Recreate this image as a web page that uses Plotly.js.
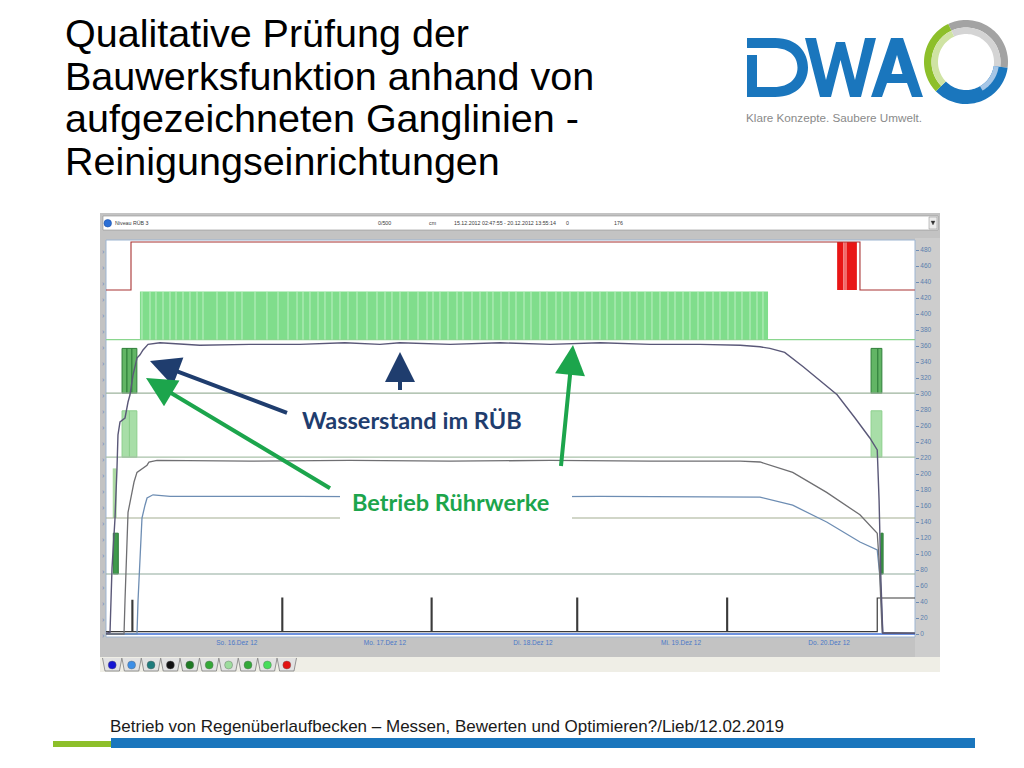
<!DOCTYPE html>
<html><head><meta charset="utf-8">
<script src="https://cdn.plot.ly/plotly-3.0.1.min.js"></script>
<style>html,body{margin:0;padding:0;background:#fff;overflow:hidden}#chart{width:1024px;height:768px}</style>
</head><body><div id="chart"></div>
<script>
// ================= DATA (hours after 15.12.2012 00:00, values in cm) =================
const rangeStart = '2012-12-15 02:47:55';
const rangeEnd = '2012-12-20 13:55:14';
const dayTickDates = ['2012-12-16', '2012-12-17', '2012-12-18', '2012-12-19', '2012-12-20'];
const dayTickLabels = ['So. 16.Dez 12', 'Mo. 17.Dez 12', 'Di. 18.Dez 12', 'Mi. 19.Dez 12', 'Do. 20.Dez 12'];
const yTickValues = [0,20,40,60,80,100,120,140,160,180,200,220,240,260,280,300,320,340,360,380,400,420,440,460,480];

// Wasserstand im RÜB
const levelHours = [2.80, 3.45, 3.77, 4.26, 4.58, 4.74, 5.07, 5.88, 6.37, 6.69, 7.18, 7.82, 8.31, 8.80, 9.61, 11.55, 18.0, 26.1, 34.2, 41.5, 47.2, 50.4, 58.6, 66.7, 74.8, 82.9, 91.0, 99.1, 105.6, 108.8, 110.4, 112.8, 115.8, 118.5, 121.3, 124.2, 126.6, 127.8, 128.1, 128.4, 128.7, 133.9];
const levelValues = [1, 2, 82, 145, 207, 249, 265, 270, 290, 299, 324, 345, 349, 355, 362, 364, 361, 362, 362, 364, 362, 364, 362, 364, 362, 364, 362, 362, 361, 359, 357, 352, 334, 317, 299, 270, 245, 230, 167, 67, 1, 1];
// second level curve
const level2Hours = [2.80, 5.72, 5.88, 6.04, 6.20, 6.37, 7.01, 7.34, 7.82, 8.80, 9.45, 9.77, 11.07, 26.1, 42.3, 58.6, 74.8, 91.0, 105.6, 108.8, 114.1, 119.6, 125.0, 127.8, 128.1, 128.6, 133.9];
const level2Values = [0, 0, 42, 82, 132, 152, 177, 190, 202, 207, 211, 215, 217, 216, 217, 216, 217, 216, 216, 215, 202, 177, 149, 126, 92, 2, 1];
// third level curve
const level3Hours = [2.80, 7.82, 7.99, 8.31, 8.63, 9.12, 9.45, 10.42, 13.2, 34.2, 58.6, 82.9, 105.6, 108.8, 114.1, 119.6, 125.0, 127.8, 128.3, 128.7, 133.9];
const level3Values = [0, 0, 42, 92, 145, 161, 170, 174, 172, 172, 171, 172, 171, 171, 161, 140, 115, 105, 67, 1, 1];

// outlet signal near zero with daily pulses
const pulseHours = [7.0, 31.3, 55.5, 79.1, 103.4];
const pulseValues = [42, 45, 45, 45, 45];
const pulseDuration = 0.15;
const outletBaseValue = 3;
const outletStepHour = 127.8;
const outletStepValue = 45;
const blueSignalValue = 0;

// red alarm signal (low 430 / high 490)
const alarmHours = [2.80, 6.85, 125.0, 133.9];
const alarmValues = [430, 490, 430, 430];
const alarmBurstStart = [121.3, 122.9];
const alarmBurstEnd = [122.3, 124.5];
const alarmBurstLightStart = [122.3];
const alarmBurstLightEnd = [122.9];

// Rührwerk 1 (light green band)
const mixer1Low = 368, mixer1High = 428;
const mixer1OnStart = [8.3];
const mixer1OnEnd = [110.1];
const mixer1GapHours = [8.63, 9.93, 10.90, 12.04, 13.17, 14.15, 15.28, 16.41, 17.55, 18.52, 20.79, 22.41, 23.71, 24.84, 26.95, 28.89, 30.68, 32.30, 33.76, 34.73, 35.86, 37.16, 38.29, 39.43, 40.72, 42.02, 43.48, 45.10, 46.72, 48.02, 49.15, 50.45, 51.75, 53.37, 54.83, 55.80, 56.93, 58.23, 59.69, 60.66, 62.12, 63.42, 64.55, 65.52, 66.82, 68.12, 69.25, 70.55, 71.68, 73.14, 74.27, 75.73, 76.71, 78.00, 79.30, 80.43, 81.57, 82.86, 84.00, 85.30, 86.43, 87.73, 88.86, 90.16, 91.29, 92.59, 93.89, 95.02, 96.32, 97.45, 98.75, 99.88, 101.18, 102.32, 103.61, 104.75, 105.88, 107.18, 108.31, 109.28];
// Rührwerk 2 (dark green band)
const mixer2Low = 301, mixer2High = 357;
const mixer2OnStart = [5.40, 6.20, 7.00, 126.80, 127.90];
const mixer2OnEnd = [6.20, 7.00, 7.80, 127.90, 128.55];
// Rührwerk 3 (pale green band)
const mixer3Low = 221, mixer3High = 279;
const mixer3OnStart = [5.40, 6.60, 126.80];
const mixer3OnEnd = [6.60, 7.80, 128.55];
// Rührwerk 4
const mixer4Low = 145, mixer4High = 207;
const mixer4OnStart = [3.89];
const mixer4OnEnd = [4.53];
// Rührwerk 5
const mixer5Low = 75, mixer5High = 126;
const mixer5OnStart = [3.98, 128.40];
const mixer5OnEnd = [4.79, 128.75];

// ================= HELPERS =================
const W = 1024, H = 768;
const BASE = Date.UTC(2012, 11, 15);
function d(h) { return new Date(BASE + h * 3600000).toISOString().replace('T', ' ').replace('Z', ''); }
const px = x => x / W, py = y => 1 - y / H;
function P(x, y) { return px(x).toFixed(5) + ',' + py(y).toFixed(5); }

function bars(starts, ends, low, high, color, lineColor) {
  return {
    type: 'bar', x: starts.map((s, i) => d((s + ends[i]) / 2)),
    y: starts.map(() => high - low), base: low,
    width: starts.map((s, i) => (ends[i] - s) * 3600000),
    marker: { color: color, line: { width: lineColor ? 1 : 0, color: lineColor || color } },
    hoverinfo: 'skip', showlegend: false
  };
}
function vlines(hours, low, high, color, width) {
  const x = [], y = [];
  hours.forEach(h => { x.push(d(h), d(h), null); y.push(low, high, null); });
  return { type: 'scatter', mode: 'lines', x, y, line: { color, width }, hoverinfo: 'skip', showlegend: false };
}
function hline(v, color, width) {
  return { type: 'scatter', mode: 'lines', x: [rangeStart, rangeEnd], y: [v, v], line: { color, width }, hoverinfo: 'skip', showlegend: false };
}
function curve(hours, vals, color, width, shape) {
  return { type: 'scatter', mode: 'lines', x: hours.map(d), y: vals, line: { color, width, shape: shape || 'linear' }, hoverinfo: 'skip', showlegend: false };
}

// outlet trace built from pulse data
const outX = [d(2.80)], outY = [outletBaseValue];
pulseHours.forEach((p, i) => {
  outX.push(d(p), d(p), d(p + pulseDuration), d(p + pulseDuration));
  outY.push(outletBaseValue, pulseValues[i], pulseValues[i], outletBaseValue);
});
outX.push(d(outletStepHour), d(outletStepHour), d(133.95));
outY.push(outletBaseValue, outletStepValue, outletStepValue);

const traces = [
  hline(mixer1Low, '#8ad68e', 1.2),
  hline(mixer2Low, '#9db39d', 1.2),
  hline(mixer3Low, '#a9c2a9', 1.2),
  hline(mixer4Low, '#a3ae92', 1.2),
  hline(mixer5Low, '#8fa99b', 1.2),
  bars(mixer1OnStart, mixer1OnEnd, mixer1Low, mixer1High, '#80dd8c'),
  vlines(mixer1GapHours, mixer1Low, mixer1High, 'rgba(205,245,210,0.9)', 0.9),
  bars(mixer2OnStart, mixer2OnEnd, mixer2Low, mixer2High, '#62b565', '#2f7f3a'),
  bars(mixer3OnStart, mixer3OnEnd, mixer3Low, mixer3High, '#a8dea8', '#8ccf8c'),
  bars(mixer4OnStart, mixer4OnEnd, mixer4Low, mixer4High, '#acd9a2'),
  bars(mixer5OnStart, mixer5OnEnd, mixer5Low, mixer5High, '#3f9a4c', '#2c7a38'),
  bars(alarmBurstStart, alarmBurstEnd, 430, 490, '#e81515'),
  bars(alarmBurstLightStart, alarmBurstLightEnd, 430, 490, '#f26a6a'),
  curve(alarmHours, alarmValues, '#a83232', 1.1, 'hv'),
  hline(blueSignalValue, '#3f6fd6', 1.6),
  { type: 'scatter', mode: 'lines', x: outX, y: outY, line: { color: '#3a3a3a', width: 1.2 }, hoverinfo: 'skip', showlegend: false },
  curve(level3Hours, level3Values, '#6d8db3', 1.3),
  curve(level2Hours, level2Values, '#6f6f72', 1.3),
  curve(levelHours, levelValues, '#5a5878', 1.4)
];

// ================= SHAPES =================
const shapes = [];
function rect(x0, y0, x1, y1, fill, line, lw, layer) {
  shapes.push({ type: 'rect', xref: 'paper', yref: 'paper', x0: px(x0), x1: px(x1), y0: py(y1), y1: py(y0),
    fillcolor: fill, line: { color: line || fill, width: lw == null ? 0 : lw }, layer: layer || 'below' });
}
function path(p, fill, line, lw, layer) {
  shapes.push({ type: 'path', xref: 'paper', yref: 'paper', path: p, fillcolor: fill || 'rgba(0,0,0,0)',
    line: { color: line || 'rgba(0,0,0,0)', width: lw || 0 }, layer: layer || 'above' });
}
// screenshot frame
rect(100, 213, 940, 672, '#c3c3c3');
rect(103, 216, 938, 230, '#ffffff', '#8f8f8f', 0.6);
rect(929, 217, 937, 229, '#ececec', '#8a8a8a', 0.5);
rect(100, 657, 940, 672, '#efeee6');
rect(915, 238, 940, 657, '#cdcdcd');
rect(106, 240, 915, 637, '#ffffff', '#9db5d2', 1);
shapes.push({ type: 'circle', xref: 'paper', yref: 'paper', x0: px(104), x1: px(111.5), y0: py(227), y1: py(219.5), fillcolor: '#2b6fd6', line: { color: '#1b4fa6', width: 0.6 }, layer: 'below' });
path('M' + P(931, 221) + 'L' + P(935, 221) + 'L' + P(933, 225) + 'Z', '#333', '#333', 0.3);
// tabs with colored circles
const tabColors = ['#1414d2', '#3d8fe6', '#1f7c7c', '#111111', '#1f7a24', '#35a838', '#9ddc9d', '#33a83a', '#47dd5a', '#e21212'];
tabColors.forEach((c, i) => {
  const a = 102.5 + i * 19.4, b = a + 19.4;
  path('M' + P(a, 658) + 'L' + P(a + 2.5, 671) + 'L' + P(b - 2.5, 671) + 'L' + P(b, 658), '#e2e2e2', '#7d7d7d', 0.8, 'below');
  shapes.push({ type: 'circle', xref: 'paper', yref: 'paper', x0: px(a + 9.7 - 4), x1: px(a + 9.7 + 4), y0: py(669), y1: py(661), fillcolor: c, line: { color: '#666', width: 0.4 }, layer: 'above' });
});
// white box behind label
rect(340, 487, 572, 520, '#ffffff', '#ffffff', 0, 'above');

// DWA logo
const dwaBlue = '#1a76bd';
path('M' + P(747, 38) + 'L' + P(775, 38) + 'C' + P(798, 38) + ' ' + P(808, 53) + ' ' + P(808, 67.5) +
  'C' + P(808, 82) + ' ' + P(798, 97) + ' ' + P(775, 97) + 'L' + P(747, 97) + 'L' + P(747, 55) + 'L' + P(757, 55) +
  'L' + P(757, 87) + 'L' + P(774, 87) + 'C' + P(790, 87) + ' ' + P(797.5, 78) + ' ' + P(797.5, 67.5) +
  'C' + P(797.5, 57) + ' ' + P(790, 48) + ' ' + P(774, 48) + 'L' + P(747, 48) + 'Z', dwaBlue);
path('M' + P(805, 38) + 'L' + P(816, 38) + 'L' + P(826, 80) + 'L' + P(836, 42) + 'L' + P(845, 42) + 'L' + P(855, 80) +
  'L' + P(865, 38) + 'L' + P(876, 38) + 'L' + P(861, 97) + 'L' + P(850, 97) + 'L' + P(840.5, 60) + 'L' + P(831, 97) +
  'L' + P(820, 97) + 'Z', dwaBlue);
path('M' + P(871, 97) + 'L' + P(891, 38) + 'L' + P(903, 38) + 'L' + P(923, 97) + 'L' + P(912, 97) + 'L' + P(907, 83) +
  'L' + P(887, 83) + 'L' + P(882, 97) + 'Z', dwaBlue);
path('M' + P(891.5, 74) + 'L' + P(902.5, 74) + 'L' + P(897, 55) + 'Z', '#ffffff');
// ring
function sector(cx, cy, r1, r2, a0, a1) {
  const n = 40, pts = [];
  for (let i = 0; i <= n; i++) { const a = (a0 + (a1 - a0) * i / n) * Math.PI / 180; pts.push(P(cx + r2 * Math.cos(a), cy - r2 * Math.sin(a))); }
  for (let i = n; i >= 0; i--) { const a = (a0 + (a1 - a0) * i / n) * Math.PI / 180; pts.push(P(cx + r1 * Math.cos(a), cy - r1 * Math.sin(a))); }
  return 'M' + pts.join('L') + 'Z';
}
const rc = [966, 62];
path(sector(rc[0], rc[1], 34.5, 42, -8, 115), '#a3a3a3');
path(sector(rc[0], rc[1], 28, 34.5, -8, 115), '#d4d4d4');
path(sector(rc[0], rc[1], 28, 42, -136, -8), dwaBlue);
path(sector(rc[0], rc[1], 28, 33, -60, -8), '#a6c6e6');
path(sector(rc[0], rc[1], 34.5, 42, 115, 224), '#8dbf2a');
path(sector(rc[0], rc[1], 28, 34.5, 115, 224), '#cfe3a3');
// footer bars
rect(111, 738, 975, 748, dwaBlue, null, 0, 'above');
rect(53, 741, 111, 747, '#8dbf2a', null, 0, 'above');

// ================= ANNOTATIONS =================
const ann = [];
function txt(text, x, y, size, color, family, extra) {
  ann.push(Object.assign({ xref: 'paper', yref: 'paper', x: px(x), y: py(y), text, showarrow: false, xanchor: 'left', yanchor: 'middle',
    font: { family: family || 'Liberation Sans, Arial, sans-serif', size, color } }, extra || {}));
}
function arrow(hx, hy, tx, ty, color) {
  ann.push({ xref: 'paper', yref: 'paper', x: px(hx), y: py(hy), ax: tx - hx, ay: ty - hy, axref: 'pixel', ayref: 'pixel',
    text: ' ', showarrow: true, arrowhead: 2, arrowsize: 1.5, arrowwidth: 4, arrowcolor: color, standoff: 0 });
}
const titleLines = ['Qualitative Prüfung der', 'Bauwerksfunktion anhand von', 'aufgezeichneten Ganglinien -', 'Reinigungseinrichtungen'];
titleLines.forEach((t, i) => txt(t, 63, 33 + i * 42.7, 39.5, '#000000'));
txt('Klare Konzepte. Saubere Umwelt.', 744, 117, 11.7, '#8a8a8a');
txt('Betrieb von Regenüberlaufbecken – Messen, Bewerten und Optimieren?/Lieb/12.02.2019', 108, 726, 17, '#1a1a1a');
// screenshot header texts
const hdr = [['Niveau RÜB 3', 113], ['0/500', 376], ['cm', 427], ['15.12.2012 02:47:55 - 20.12.2012 13:55:14', 452], ['0', 564], ['176', 612]];
hdr.forEach(h => txt(h[0], h[1], 223, 5.3, '#3a3a3a'));
// left strip marks
yTickValues.forEach(v => ann.push({ xref: 'paper', yref: 'y', x: px(103), y: v, text: '›', showarrow: false, xanchor: 'center', yanchor: 'middle', font: { size: 8, color: '#6b8cc0' } }));
// callouts
arrow(150, 361, 290, 414, '#1f3d6e');
arrow(400, 352, 400, 400, '#1f3d6e');
arrow(146, 378, 333, 490, '#1ca54c');
arrow(573, 345, 560, 476, '#1ca54c');
txt('<b>Wasserstand im RÜB</b>', 412, 420, 23.5, '#1f3d6e', 'Lato, Open Sans, sans-serif', { xanchor: 'center' });
txt('<b>Betrieb Rührwerke</b>', 450, 502, 23.5, '#1ca54c', 'Lato, Open Sans, sans-serif', { xanchor: 'center' });

const layout = {
  width: W, height: H, margin: { l: 0, r: 0, t: 0, b: 0 },
  paper_bgcolor: '#ffffff', plot_bgcolor: 'rgba(0,0,0,0)', showlegend: false, barmode: 'overlay',
  xaxis: { type: 'date', domain: [px(106), px(915)], range: [rangeStart, rangeEnd], tickmode: 'array',
    tickvals: dayTickDates, ticktext: dayTickLabels, ticks: '', showgrid: false, zeroline: false, showline: false,
    tickfont: { family: 'Liberation Sans, Arial, sans-serif', size: 6.5, color: '#4a78c8' }, fixedrange: true },
  yaxis: { domain: [py(637), py(240)], range: [-3.75, 492.5], side: 'right', tickmode: 'array', tickvals: yTickValues,
    ticks: 'outside', ticklen: 3, tickcolor: '#6d8cb5', showgrid: false, zeroline: false, showline: false,
    tickfont: { family: 'Liberation Sans, Arial, sans-serif', size: 6.5, color: '#5b7fae' }, fixedrange: true },
  shapes, annotations: ann
};
Plotly.newPlot('chart', traces, layout, { staticPlot: true, displayModeBar: false });
</script></body></html>
